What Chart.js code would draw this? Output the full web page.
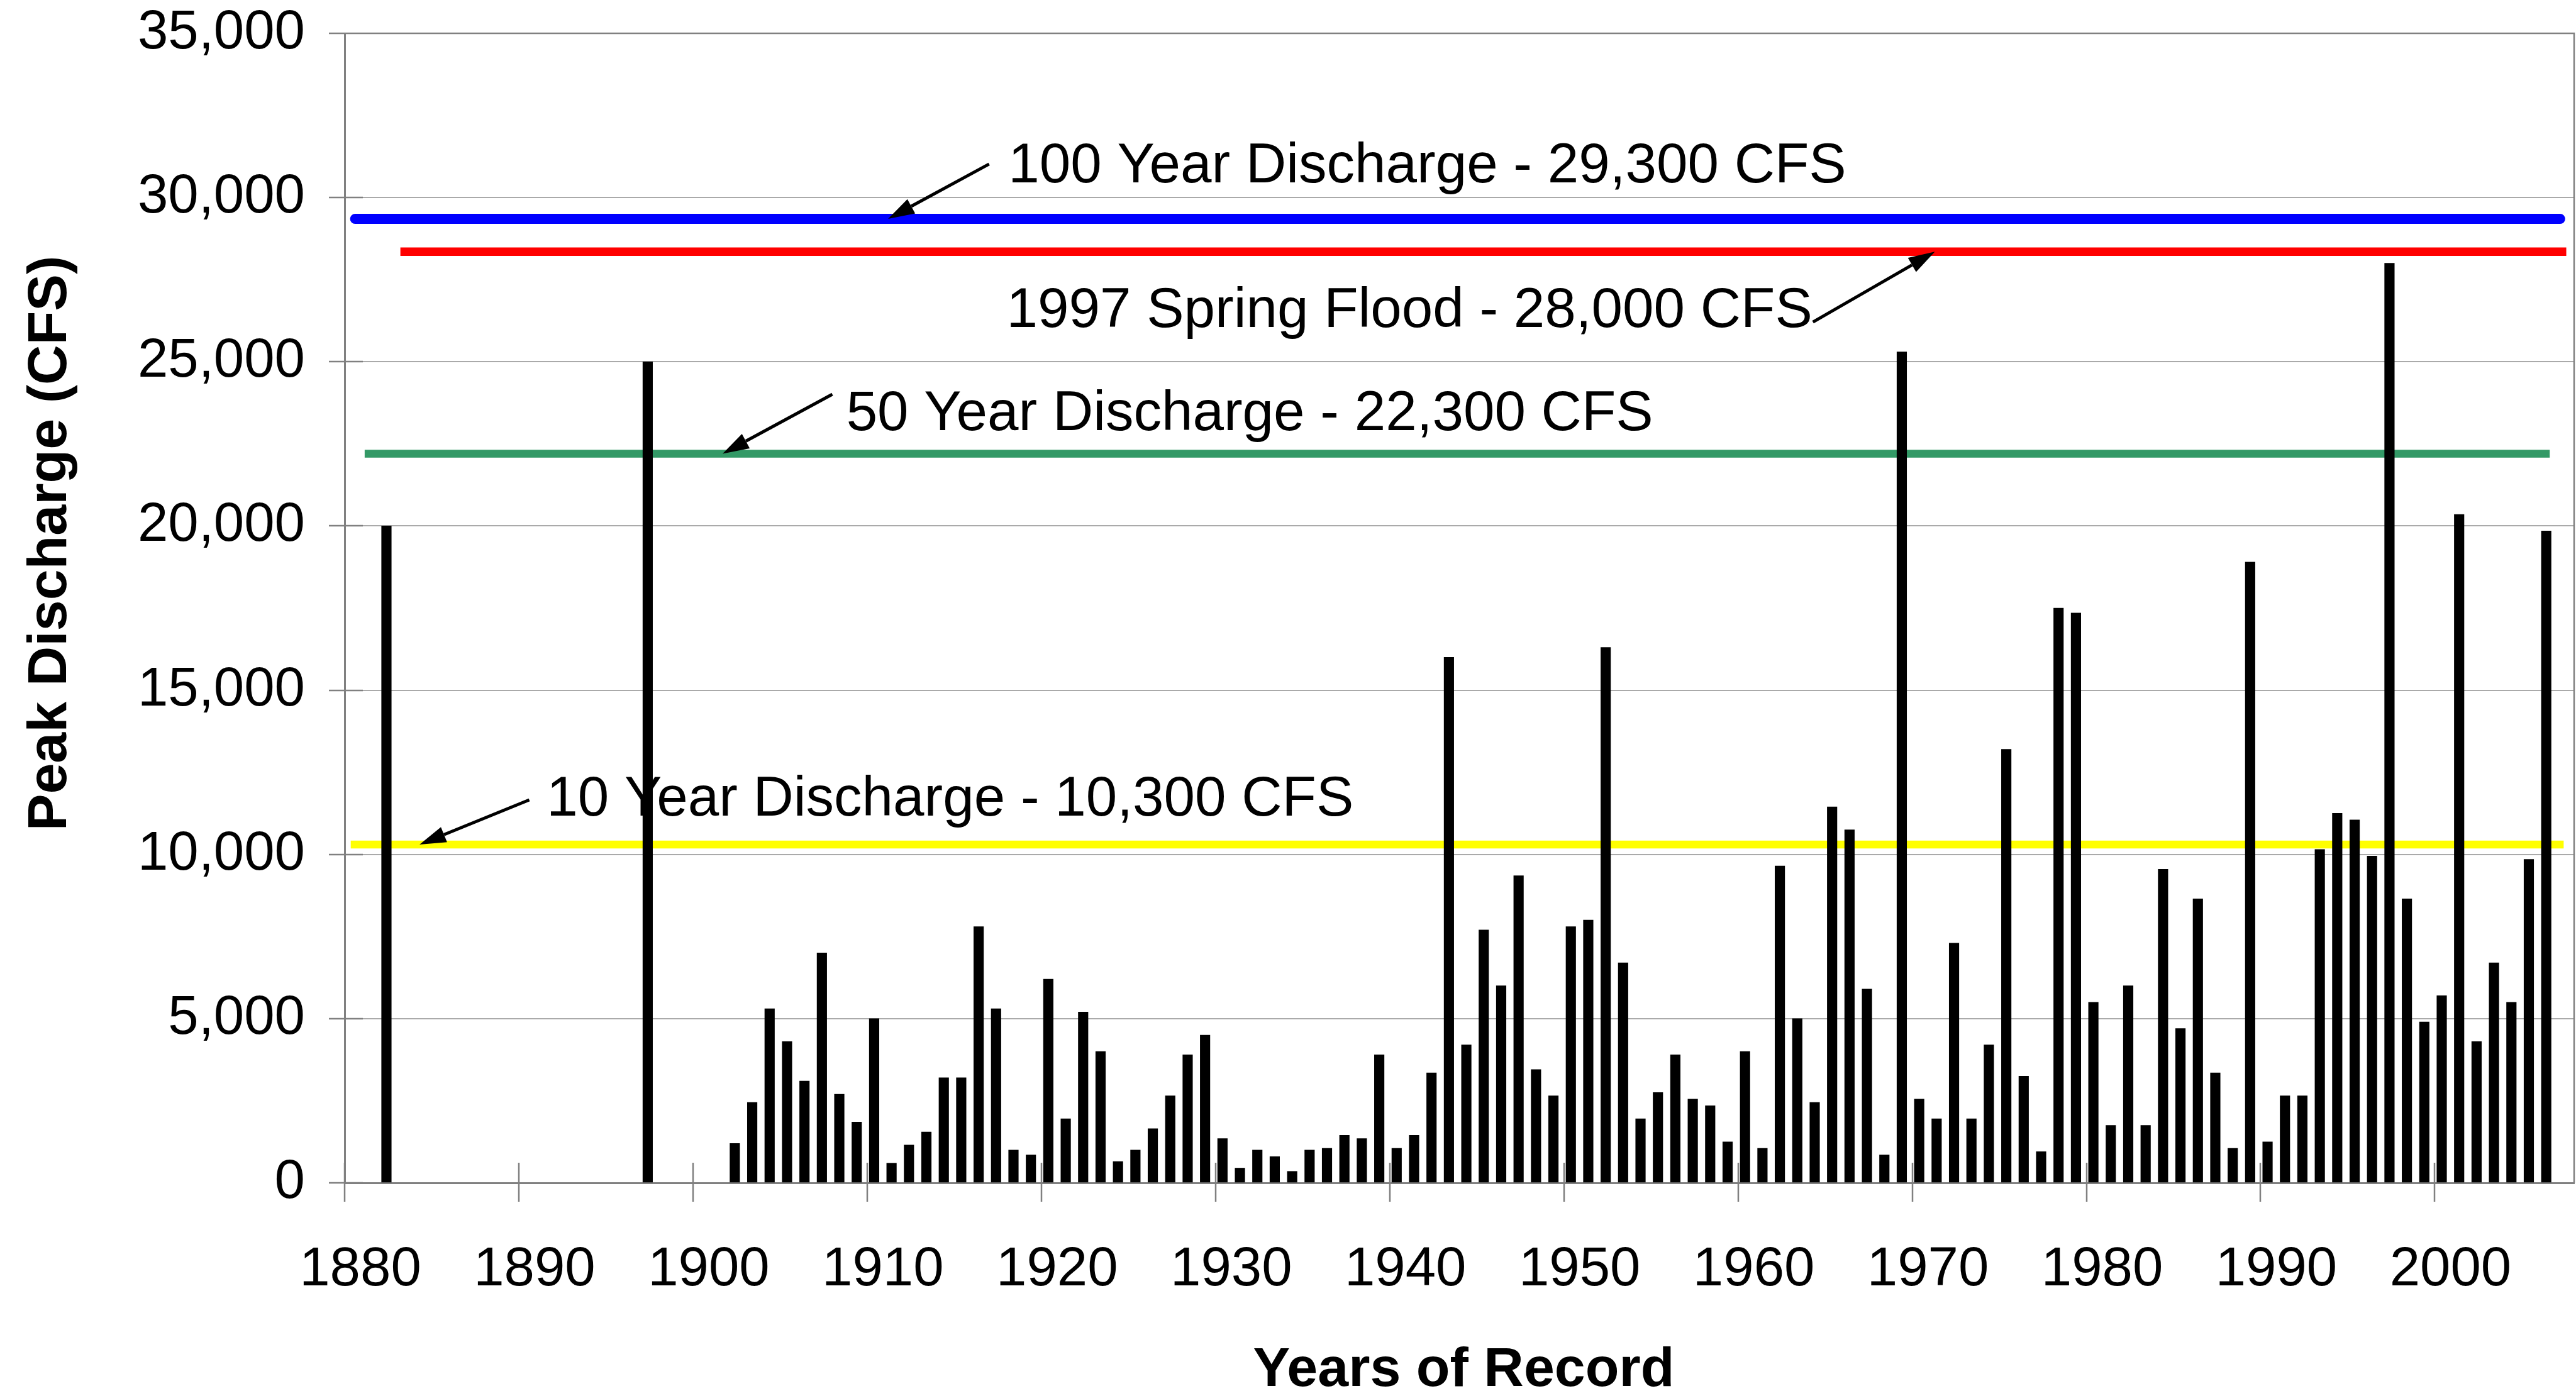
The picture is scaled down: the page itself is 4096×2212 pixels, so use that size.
<!DOCTYPE html>
<html>
<head>
<meta charset="utf-8">
<title>Peak Discharge - Years of Record</title>
<script src="https://cdn.jsdelivr.net/npm/chart.js@4.4.1/dist/chart.umd.min.js"></script>
<style>
  html, body { margin: 0; padding: 0; background: #fff; overflow: hidden; }
  canvas { display: block; }
</style>
</head>
<body>
<canvas id="grafico" width="4096" height="2212"></canvas>
<script>
// ---------- Data ----------
var YEARS = [1882, 1897,
  1902, 1903, 1904, 1905, 1906, 1907, 1908, 1909, 1910,
  1911, 1912, 1913, 1914, 1915, 1916, 1917, 1918, 1919, 1920,
  1921, 1922, 1923, 1924, 1925, 1926, 1927, 1928, 1929, 1930,
  1931, 1932, 1933, 1934, 1935, 1936, 1937, 1938, 1939, 1940,
  1941, 1942, 1943, 1944, 1945, 1946, 1947, 1948, 1949, 1950,
  1951, 1952, 1953, 1954, 1955, 1956, 1957, 1958, 1959, 1960,
  1961, 1962, 1963, 1964, 1965, 1966, 1967, 1968, 1969, 1970,
  1971, 1972, 1973, 1974, 1975, 1976, 1977, 1978, 1979, 1980,
  1981, 1982, 1983, 1984, 1985, 1986, 1987, 1988, 1989, 1990,
  1991, 1992, 1993, 1994, 1995, 1996, 1997, 1998, 1999, 2000,
  2001, 2002, 2003, 2004, 2005, 2006];

var PEAKS = [20000, 25000,
  1200, 2450, 5300, 4300, 3100, 7000, 2700, 1850, 5000,
  600, 1150, 1550, 3200, 3200, 7800, 5300, 1000, 850, 6200,
  1950, 5200, 4000, 650, 1000, 1650, 2650, 3900, 4500, 1350,
  450, 1000, 800, 350, 1000, 1050, 1450, 1350, 3900, 1050,
  1450, 3350, 16000, 4200, 7700, 6000, 9350, 3450, 2650, 7800,
  8000, 16300, 6700, 1950, 2750, 3900, 2550, 2350, 1250, 4000,
  1050, 9650, 5000, 2450, 11450, 10750, 5900, 850, 25300, 2550,
  1950, 7300, 1950, 4200, 13200, 3250, 950, 17500, 17350, 5500,
  1750, 6000, 1750, 9550, 4700, 8650, 3350, 1050, 18900, 1250,
  2650, 2650, 10150, 11250, 11050, 9950, 28000, 8650, 4900, 5700,
  20350, 4300, 6700, 5500, 9850, 19850];

var X_TICKS = [1880, 1890, 1900, 1910, 1920, 1930, 1940, 1950, 1960, 1970, 1980, 1990, 2000];
var Y_TICKS = [0, 5000, 10000, 15000, 20000, 25000, 30000, 35000];

// reference levels: label, value where the line sits, first and last year it spans
var LEVEL_TEXT = ["100 Year Discharge - 29,300 CFS", "1997 Spring Flood - 28,000 CFS",
  "50 Year Discharge - 22,300 CFS", "10 Year Discharge - 10,300 CFS"];
var LEVEL_VALUE = [29350, 28350, 22200, 10300];
var LEVEL_FROM = [1880.6, 1883.2, 1881.15, 1880.35];
var LEVEL_TO = [2007.2, 2007.55, 2006.6, 2007.4];

(function () {
  "use strict";

  var FONT = '"Liberation Sans", Arial, Helvetica, sans-serif';
  var LEVEL_STYLE = [
    { color: "#0000ff", width: 16, cap: "round" },
    { color: "#ff0000", width: 13.5, cap: "butt" },
    { color: "#339966", width: 12.5, cap: "butt" },
    { color: "#ffff00", width: 12.5, cap: "butt" }
  ];
  // where each label sits (left / baseline) and its arrow, in data units
  var NOTES = [
    { at: [1918.1, 30470], tail: [1917.0, 31020], tip: [1911.2, 29350] },
    { at: [1918.0, 26050], tail: [1964.3, 26210], tip: [1971.3, 28350] },
    { at: [1908.8, 22910], tail: [1908.0, 24010], tip: [1901.7, 22200] },
    { at: [1891.6, 11180], tail: [1890.6, 11660], tip: [1884.3, 10300] }
  ];

  // ---------- Arrow helper ----------
  function seta(c, x1, y1, x2, y2) {
    var ang = Math.atan2(y2 - y1, x2 - x1), len = 42, half = 13;
    var bx = x2 - len * Math.cos(ang), by = y2 - len * Math.sin(ang);
    c.beginPath(); c.moveTo(x1, y1); c.lineTo(bx, by); c.stroke();
    c.beginPath(); c.moveTo(x2, y2);
    c.lineTo(bx + half * Math.sin(ang), by - half * Math.cos(ang));
    c.lineTo(bx - half * Math.sin(ang), by + half * Math.cos(ang));
    c.closePath(); c.fill();
  }

  // ---------- Frame, crossing tick marks, titles and notes ----------
  var extras = {
    id: "extras",
    afterDraw: function (chart) {
      var c = chart.ctx, a = chart.chartArea, sx = chart.scales.x, sy = chart.scales.y;
      c.save();
      c.strokeStyle = "#808080"; c.lineWidth = 2.5;
      c.beginPath();
      c.moveTo(a.left, a.top); c.lineTo(a.right, a.top); c.lineTo(a.right, a.bottom);
      sx.ticks.forEach(function (t) {
        var px = Math.round(sx.getPixelForValue(t.value));
        c.moveTo(px, a.bottom - 32); c.lineTo(px, a.bottom + 30);
      });
      sy.ticks.forEach(function (t) {
        var py = Math.round(sy.getPixelForValue(t.value));
        c.moveTo(a.left - 25, py); c.lineTo(a.left + 29, py);
      });
      c.stroke();

      c.fillStyle = "#000"; c.strokeStyle = "#000"; c.lineWidth = 5;
      c.font = "89px " + FONT; c.textAlign = "left"; c.textBaseline = "alphabetic";
      NOTES.forEach(function (n, i) {
        c.fillText(LEVEL_TEXT[i], sx.getPixelForValue(n.at[0]), sy.getPixelForValue(n.at[1]));
        seta(c, sx.getPixelForValue(n.tail[0]), sy.getPixelForValue(n.tail[1]),
          sx.getPixelForValue(n.tip[0]), sy.getPixelForValue(n.tip[1]));
      });

      // axis titles
      c.font = "bold 88px " + FONT; c.textAlign = "center";
      c.fillText("Years of Record", (a.left + a.right) / 2 + 7, a.bottom + 323);
      c.translate(a.left - 443, (a.top + a.bottom) / 2 - 103);
      c.rotate(-Math.PI / 2);
      c.fillText("Peak Discharge (CFS)", 0, 0);
      c.restore();
    }
  };

  // ---------- Datasets ----------
  var datasets = [{
    type: "bar",
    label: "Peak discharge",
    // each bar sits inside its year slot, just right of the year mark
    data: YEARS.map(function (ano, i) { return { x: ano + 0.4, y: PEAKS[i] }; }),
    backgroundColor: "#000000",
    borderWidth: 0,
    barThickness: 15.5,
    order: 0
  }];
  LEVEL_VALUE.forEach(function (v, i) {
    var s = LEVEL_STYLE[i];
    datasets.push({
      type: "line",
      label: LEVEL_TEXT[i],
      data: [{ x: LEVEL_FROM[i], y: v }, { x: LEVEL_TO[i], y: v }],
      borderColor: s.color, borderWidth: s.width, borderCapStyle: s.cap,
      pointRadius: 0, fill: false, order: 1
    });
  });

  new Chart(document.getElementById("grafico"), {
    type: "bar",
    data: { datasets: datasets },
    plugins: [extras],
    options: {
      responsive: false, animation: false, devicePixelRatio: 1,
      layout: { padding: { top: 53, right: 3, bottom: 0, left: 0 } },
      plugins: { legend: { display: false }, tooltip: { enabled: false } },
      scales: {
        x: {
          type: "linear", min: 1880, max: 2008, offset: false,
          grid: { display: false },
          border: { display: true, color: "#808080", width: 3 },
          afterBuildTicks: function (s) { s.ticks = X_TICKS.map(function (v) { return { value: v }; }); },
          afterFit: function (s) { s.height = 331; s.paddingLeft = 0; s.paddingRight = 0; },
          ticks: {
            autoSkip: false, maxRotation: 0, minRotation: 0, padding: 79, labelOffset: 25,
            color: "#000", font: { family: FONT, size: 87 },
            callback: function (v) { return String(v); }
          }
        },
        y: {
          min: 0, max: 35000,
          grid: { color: "#aaaaaa", lineWidth: 2, drawTicks: false },
          border: { display: true, color: "#808080", width: 3 },
          afterBuildTicks: function (s) { s.ticks = Y_TICKS.map(function (v) { return { value: v }; }); },
          // the label padding must not push the plot down
          afterFit: function (s) { s.width = 548; s.paddingTop = 0; s.paddingBottom = 0; },
          ticks: {
            padding: 63, color: "#000", font: { family: FONT, size: 87 },
            callback: function (v) { return v.toLocaleString("en-US"); }
          }
        }
      }
    }
  });
})();
</script>
</body>
</html>
